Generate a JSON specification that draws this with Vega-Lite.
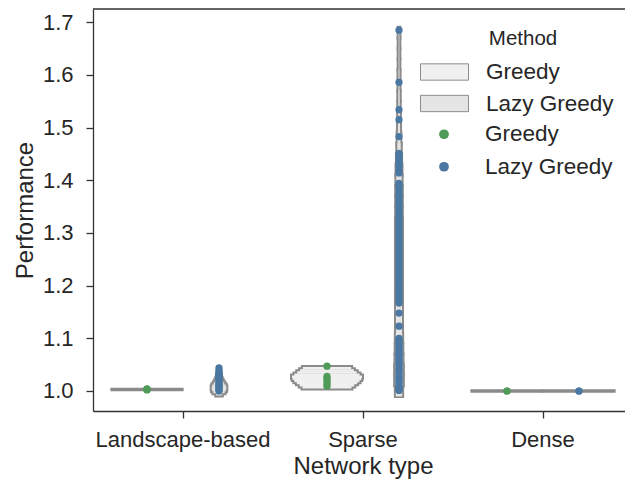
{
  "$schema": "https://vega.github.io/schema/vega-lite/v6.json",
  "autosize": {"type": "none"},
  "padding": {"left": 93, "top": 9, "right": 0, "bottom": 71},
  "width": 532,
  "height": 402,
  "background": "white",
  "config": {
    "font": "Liberation Sans",
    "view": {"stroke": null},
    "axis": {
      "domainColor": "#333333", "domainWidth": 1.3,
      "tickColor": "#333333", "tickWidth": 1.3, "tickSize": 7,
      "labelColor": "#262626", "titleColor": "#262626",
      "labelFontSize": 22, "titleFontSize": 24, "titleFontWeight": "normal",
      "grid": false
    }
  },
  "datasets": {
    "points": [
      {"Network": "Landscape-based", "Method": "Greedy", "Performance": 1.002},
      {"Network": "Landscape-based", "Method": "Greedy", "Performance": 1.003},
      {"Network": "Landscape-based", "Method": "Greedy", "Performance": 1.003},
      {"Network": "Landscape-based", "Method": "Greedy", "Performance": 1.004},
      {"Network": "Landscape-based", "Method": "Lazy Greedy", "Performance": 1.000},
      {"Network": "Landscape-based", "Method": "Lazy Greedy", "Performance": 1.002},
      {"Network": "Landscape-based", "Method": "Lazy Greedy", "Performance": 1.004},
      {"Network": "Landscape-based", "Method": "Lazy Greedy", "Performance": 1.006},
      {"Network": "Landscape-based", "Method": "Lazy Greedy", "Performance": 1.008},
      {"Network": "Landscape-based", "Method": "Lazy Greedy", "Performance": 1.010},
      {"Network": "Landscape-based", "Method": "Lazy Greedy", "Performance": 1.012},
      {"Network": "Landscape-based", "Method": "Lazy Greedy", "Performance": 1.014},
      {"Network": "Landscape-based", "Method": "Lazy Greedy", "Performance": 1.017},
      {"Network": "Landscape-based", "Method": "Lazy Greedy", "Performance": 1.020},
      {"Network": "Landscape-based", "Method": "Lazy Greedy", "Performance": 1.023},
      {"Network": "Landscape-based", "Method": "Lazy Greedy", "Performance": 1.026},
      {"Network": "Landscape-based", "Method": "Lazy Greedy", "Performance": 1.029},
      {"Network": "Landscape-based", "Method": "Lazy Greedy", "Performance": 1.032},
      {"Network": "Landscape-based", "Method": "Lazy Greedy", "Performance": 1.035},
      {"Network": "Landscape-based", "Method": "Lazy Greedy", "Performance": 1.039},
      {"Network": "Landscape-based", "Method": "Lazy Greedy", "Performance": 1.044},
      {"Network": "Sparse", "Method": "Greedy", "Performance": 1.009},
      {"Network": "Sparse", "Method": "Greedy", "Performance": 1.013},
      {"Network": "Sparse", "Method": "Greedy", "Performance": 1.017},
      {"Network": "Sparse", "Method": "Greedy", "Performance": 1.021},
      {"Network": "Sparse", "Method": "Greedy", "Performance": 1.025},
      {"Network": "Sparse", "Method": "Greedy", "Performance": 1.028},
      {"Network": "Sparse", "Method": "Greedy", "Performance": 1.047},
      {"Network": "Sparse", "Method": "Lazy Greedy", "Performance": 1.001},
      {"Network": "Sparse", "Method": "Lazy Greedy", "Performance": 1.003},
      {"Network": "Sparse", "Method": "Lazy Greedy", "Performance": 1.006},
      {"Network": "Sparse", "Method": "Lazy Greedy", "Performance": 1.008},
      {"Network": "Sparse", "Method": "Lazy Greedy", "Performance": 1.011},
      {"Network": "Sparse", "Method": "Lazy Greedy", "Performance": 1.015},
      {"Network": "Sparse", "Method": "Lazy Greedy", "Performance": 1.018},
      {"Network": "Sparse", "Method": "Lazy Greedy", "Performance": 1.021},
      {"Network": "Sparse", "Method": "Lazy Greedy", "Performance": 1.024},
      {"Network": "Sparse", "Method": "Lazy Greedy", "Performance": 1.026},
      {"Network": "Sparse", "Method": "Lazy Greedy", "Performance": 1.030},
      {"Network": "Sparse", "Method": "Lazy Greedy", "Performance": 1.033},
      {"Network": "Sparse", "Method": "Lazy Greedy", "Performance": 1.037},
      {"Network": "Sparse", "Method": "Lazy Greedy", "Performance": 1.040},
      {"Network": "Sparse", "Method": "Lazy Greedy", "Performance": 1.042},
      {"Network": "Sparse", "Method": "Lazy Greedy", "Performance": 1.046},
      {"Network": "Sparse", "Method": "Lazy Greedy", "Performance": 1.050},
      {"Network": "Sparse", "Method": "Lazy Greedy", "Performance": 1.053},
      {"Network": "Sparse", "Method": "Lazy Greedy", "Performance": 1.055},
      {"Network": "Sparse", "Method": "Lazy Greedy", "Performance": 1.059},
      {"Network": "Sparse", "Method": "Lazy Greedy", "Performance": 1.062},
      {"Network": "Sparse", "Method": "Lazy Greedy", "Performance": 1.066},
      {"Network": "Sparse", "Method": "Lazy Greedy", "Performance": 1.069},
      {"Network": "Sparse", "Method": "Lazy Greedy", "Performance": 1.071},
      {"Network": "Sparse", "Method": "Lazy Greedy", "Performance": 1.075},
      {"Network": "Sparse", "Method": "Lazy Greedy", "Performance": 1.078},
      {"Network": "Sparse", "Method": "Lazy Greedy", "Performance": 1.082},
      {"Network": "Sparse", "Method": "Lazy Greedy", "Performance": 1.085},
      {"Network": "Sparse", "Method": "Lazy Greedy", "Performance": 1.088},
      {"Network": "Sparse", "Method": "Lazy Greedy", "Performance": 1.091},
      {"Network": "Sparse", "Method": "Lazy Greedy", "Performance": 1.095},
      {"Network": "Sparse", "Method": "Lazy Greedy", "Performance": 1.098},
      {"Network": "Sparse", "Method": "Lazy Greedy", "Performance": 1.100},
      {"Network": "Sparse", "Method": "Lazy Greedy", "Performance": 1.123},
      {"Network": "Sparse", "Method": "Lazy Greedy", "Performance": 1.148},
      {"Network": "Sparse", "Method": "Lazy Greedy", "Performance": 1.167},
      {"Network": "Sparse", "Method": "Lazy Greedy", "Performance": 1.172},
      {"Network": "Sparse", "Method": "Lazy Greedy", "Performance": 1.178},
      {"Network": "Sparse", "Method": "Lazy Greedy", "Performance": 1.183},
      {"Network": "Sparse", "Method": "Lazy Greedy", "Performance": 1.190},
      {"Network": "Sparse", "Method": "Lazy Greedy", "Performance": 1.195},
      {"Network": "Sparse", "Method": "Lazy Greedy", "Performance": 1.201},
      {"Network": "Sparse", "Method": "Lazy Greedy", "Performance": 1.206},
      {"Network": "Sparse", "Method": "Lazy Greedy", "Performance": 1.213},
      {"Network": "Sparse", "Method": "Lazy Greedy", "Performance": 1.218},
      {"Network": "Sparse", "Method": "Lazy Greedy", "Performance": 1.224},
      {"Network": "Sparse", "Method": "Lazy Greedy", "Performance": 1.229},
      {"Network": "Sparse", "Method": "Lazy Greedy", "Performance": 1.236},
      {"Network": "Sparse", "Method": "Lazy Greedy", "Performance": 1.241},
      {"Network": "Sparse", "Method": "Lazy Greedy", "Performance": 1.247},
      {"Network": "Sparse", "Method": "Lazy Greedy", "Performance": 1.252},
      {"Network": "Sparse", "Method": "Lazy Greedy", "Performance": 1.259},
      {"Network": "Sparse", "Method": "Lazy Greedy", "Performance": 1.264},
      {"Network": "Sparse", "Method": "Lazy Greedy", "Performance": 1.270},
      {"Network": "Sparse", "Method": "Lazy Greedy", "Performance": 1.275},
      {"Network": "Sparse", "Method": "Lazy Greedy", "Performance": 1.282},
      {"Network": "Sparse", "Method": "Lazy Greedy", "Performance": 1.287},
      {"Network": "Sparse", "Method": "Lazy Greedy", "Performance": 1.293},
      {"Network": "Sparse", "Method": "Lazy Greedy", "Performance": 1.298},
      {"Network": "Sparse", "Method": "Lazy Greedy", "Performance": 1.305},
      {"Network": "Sparse", "Method": "Lazy Greedy", "Performance": 1.310},
      {"Network": "Sparse", "Method": "Lazy Greedy", "Performance": 1.316},
      {"Network": "Sparse", "Method": "Lazy Greedy", "Performance": 1.321},
      {"Network": "Sparse", "Method": "Lazy Greedy", "Performance": 1.328},
      {"Network": "Sparse", "Method": "Lazy Greedy", "Performance": 1.333},
      {"Network": "Sparse", "Method": "Lazy Greedy", "Performance": 1.339},
      {"Network": "Sparse", "Method": "Lazy Greedy", "Performance": 1.344},
      {"Network": "Sparse", "Method": "Lazy Greedy", "Performance": 1.351},
      {"Network": "Sparse", "Method": "Lazy Greedy", "Performance": 1.356},
      {"Network": "Sparse", "Method": "Lazy Greedy", "Performance": 1.362},
      {"Network": "Sparse", "Method": "Lazy Greedy", "Performance": 1.367},
      {"Network": "Sparse", "Method": "Lazy Greedy", "Performance": 1.374},
      {"Network": "Sparse", "Method": "Lazy Greedy", "Performance": 1.379},
      {"Network": "Sparse", "Method": "Lazy Greedy", "Performance": 1.385},
      {"Network": "Sparse", "Method": "Lazy Greedy", "Performance": 1.390},
      {"Network": "Sparse", "Method": "Lazy Greedy", "Performance": 1.394},
      {"Network": "Sparse", "Method": "Lazy Greedy", "Performance": 1.414},
      {"Network": "Sparse", "Method": "Lazy Greedy", "Performance": 1.419},
      {"Network": "Sparse", "Method": "Lazy Greedy", "Performance": 1.425},
      {"Network": "Sparse", "Method": "Lazy Greedy", "Performance": 1.431},
      {"Network": "Sparse", "Method": "Lazy Greedy", "Performance": 1.437},
      {"Network": "Sparse", "Method": "Lazy Greedy", "Performance": 1.442},
      {"Network": "Sparse", "Method": "Lazy Greedy", "Performance": 1.447},
      {"Network": "Sparse", "Method": "Lazy Greedy", "Performance": 1.451},
      {"Network": "Sparse", "Method": "Lazy Greedy", "Performance": 1.483},
      {"Network": "Sparse", "Method": "Lazy Greedy", "Performance": 1.515},
      {"Network": "Sparse", "Method": "Lazy Greedy", "Performance": 1.534},
      {"Network": "Sparse", "Method": "Lazy Greedy", "Performance": 1.586},
      {"Network": "Sparse", "Method": "Lazy Greedy", "Performance": 1.685},
      {"Network": "Dense", "Method": "Greedy", "Performance": 1.000},
      {"Network": "Dense", "Method": "Greedy", "Performance": 1.000},
      {"Network": "Dense", "Method": "Lazy Greedy", "Performance": 1.000},
      {"Network": "Dense", "Method": "Lazy Greedy", "Performance": 1.000}
    ],
    "violinFine": [
      {"Network": "Sparse", "Method": "Greedy", "Performance": 1.007, "density": 0.70},
      {"Network": "Sparse", "Method": "Greedy", "Performance": 1.011, "density": 0.78},
      {"Network": "Sparse", "Method": "Greedy", "Performance": 1.015, "density": 0.86},
      {"Network": "Sparse", "Method": "Greedy", "Performance": 1.019, "density": 0.93},
      {"Network": "Sparse", "Method": "Greedy", "Performance": 1.023, "density": 0.98},
      {"Network": "Sparse", "Method": "Greedy", "Performance": 1.027, "density": 1.0},
      {"Network": "Sparse", "Method": "Greedy", "Performance": 1.031, "density": 0.93},
      {"Network": "Sparse", "Method": "Greedy", "Performance": 1.035, "density": 0.85},
      {"Network": "Sparse", "Method": "Greedy", "Performance": 1.039, "density": 0.77},
      {"Network": "Sparse", "Method": "Greedy", "Performance": 1.043, "density": 0.69},
      {"Network": "Landscape-based", "Method": "Lazy Greedy", "Performance": 0.994, "density": 0.08},
      {"Network": "Landscape-based", "Method": "Lazy Greedy", "Performance": 0.998, "density": 0.16},
      {"Network": "Landscape-based", "Method": "Lazy Greedy", "Performance": 1.002, "density": 0.20},
      {"Network": "Landscape-based", "Method": "Lazy Greedy", "Performance": 1.006, "density": 0.21},
      {"Network": "Landscape-based", "Method": "Lazy Greedy", "Performance": 1.010, "density": 0.19},
      {"Network": "Landscape-based", "Method": "Lazy Greedy", "Performance": 1.014, "density": 0.15},
      {"Network": "Landscape-based", "Method": "Lazy Greedy", "Performance": 1.018, "density": 0.11},
      {"Network": "Landscape-based", "Method": "Lazy Greedy", "Performance": 1.022, "density": 0.08},
      {"Network": "Landscape-based", "Method": "Lazy Greedy", "Performance": 1.026, "density": 0.06},
      {"Network": "Landscape-based", "Method": "Lazy Greedy", "Performance": 1.030, "density": 0.05},
      {"Network": "Landscape-based", "Method": "Lazy Greedy", "Performance": 1.034, "density": 0.04},
      {"Network": "Landscape-based", "Method": "Lazy Greedy", "Performance": 1.038, "density": 0.03},
      {"Network": "Landscape-based", "Method": "Lazy Greedy", "Performance": 1.042, "density": 0.02}
    ],
    "violinCoarse": [
      {"Network": "Sparse", "Method": "Lazy Greedy", "Performance": 1.00, "density": 0.09},
      {"Network": "Sparse", "Method": "Lazy Greedy", "Performance": 1.02, "density": 0.11},
      {"Network": "Sparse", "Method": "Lazy Greedy", "Performance": 1.04, "density": 0.11},
      {"Network": "Sparse", "Method": "Lazy Greedy", "Performance": 1.06, "density": 0.10},
      {"Network": "Sparse", "Method": "Lazy Greedy", "Performance": 1.08, "density": 0.095},
      {"Network": "Sparse", "Method": "Lazy Greedy", "Performance": 1.10, "density": 0.09},
      {"Network": "Sparse", "Method": "Lazy Greedy", "Performance": 1.12, "density": 0.085},
      {"Network": "Sparse", "Method": "Lazy Greedy", "Performance": 1.14, "density": 0.085},
      {"Network": "Sparse", "Method": "Lazy Greedy", "Performance": 1.16, "density": 0.085},
      {"Network": "Sparse", "Method": "Lazy Greedy", "Performance": 1.18, "density": 0.085},
      {"Network": "Sparse", "Method": "Lazy Greedy", "Performance": 1.20, "density": 0.085},
      {"Network": "Sparse", "Method": "Lazy Greedy", "Performance": 1.22, "density": 0.085},
      {"Network": "Sparse", "Method": "Lazy Greedy", "Performance": 1.24, "density": 0.085},
      {"Network": "Sparse", "Method": "Lazy Greedy", "Performance": 1.26, "density": 0.085},
      {"Network": "Sparse", "Method": "Lazy Greedy", "Performance": 1.28, "density": 0.085},
      {"Network": "Sparse", "Method": "Lazy Greedy", "Performance": 1.30, "density": 0.085},
      {"Network": "Sparse", "Method": "Lazy Greedy", "Performance": 1.32, "density": 0.085},
      {"Network": "Sparse", "Method": "Lazy Greedy", "Performance": 1.34, "density": 0.08},
      {"Network": "Sparse", "Method": "Lazy Greedy", "Performance": 1.36, "density": 0.08},
      {"Network": "Sparse", "Method": "Lazy Greedy", "Performance": 1.38, "density": 0.08},
      {"Network": "Sparse", "Method": "Lazy Greedy", "Performance": 1.40, "density": 0.075},
      {"Network": "Sparse", "Method": "Lazy Greedy", "Performance": 1.42, "density": 0.07},
      {"Network": "Sparse", "Method": "Lazy Greedy", "Performance": 1.44, "density": 0.06},
      {"Network": "Sparse", "Method": "Lazy Greedy", "Performance": 1.46, "density": 0.05},
      {"Network": "Sparse", "Method": "Lazy Greedy", "Performance": 1.48, "density": 0.04},
      {"Network": "Sparse", "Method": "Lazy Greedy", "Performance": 1.50, "density": 0.03},
      {"Network": "Sparse", "Method": "Lazy Greedy", "Performance": 1.52, "density": 0.025},
      {"Network": "Sparse", "Method": "Lazy Greedy", "Performance": 1.54, "density": 0.02},
      {"Network": "Sparse", "Method": "Lazy Greedy", "Performance": 1.56, "density": 0.02},
      {"Network": "Sparse", "Method": "Lazy Greedy", "Performance": 1.58, "density": 0.015},
      {"Network": "Sparse", "Method": "Lazy Greedy", "Performance": 1.60, "density": 0.015},
      {"Network": "Sparse", "Method": "Lazy Greedy", "Performance": 1.62, "density": 0.01},
      {"Network": "Sparse", "Method": "Lazy Greedy", "Performance": 1.64, "density": 0.01},
      {"Network": "Sparse", "Method": "Lazy Greedy", "Performance": 1.66, "density": 0.01},
      {"Network": "Sparse", "Method": "Lazy Greedy", "Performance": 1.68, "density": 0.01}
    ],
    "violinFlat": [
      {"Network": "Landscape-based", "Method": "Greedy", "Performance": 1.003, "density": 0.99},
      {"Network": "Dense", "Method": "Greedy", "Performance": 1.000, "density": 0.99},
      {"Network": "Dense", "Method": "Lazy Greedy", "Performance": 1.000, "density": 0.99}
    ],
    "frame": [{"Performance": 1.7252}]
  },
  "layer": [
    {
      "encoding": {
        "x": {
          "field": "Network", "type": "nominal",
          "sort": ["Landscape-based", "Sparse", "Dense"],
          "scale": {"domain": ["Landscape-based", "Sparse", "Dense"], "range": [0, 540], "paddingInner": 0, "paddingOuter": 0},
          "axis": {"title": "Network type", "labelAngle": 0, "labelPadding": 11, "titlePadding": 4}
        },
        "xOffset": {
          "field": "Method", "type": "nominal",
          "scale": {"domain": ["Greedy", "Lazy Greedy"], "range": [18, 162], "paddingInner": 0, "paddingOuter": 0}
        },
        "y": {
          "field": "Performance", "type": "quantitative",
          "scale": {"domain": [0.962, 1.7252], "nice": false, "zero": false},
          "axis": {"title": "Performance", "values": [1.0, 1.1, 1.2, 1.3, 1.4, 1.5, 1.6, 1.7], "format": ".1f", "labelPadding": 13, "titlePadding": 5}
        }
      },
      "layer": [
        {
          "data": {"name": "violinFine"},
          "mark": {"type": "tick", "orient": "horizontal", "thickness": 6.5, "color": "#8a8a8a", "opacity": 1},
          "encoding": {"size": {"field": "density", "type": "quantitative", "scale": {"domain": [0, 1], "range": [4, 74]}, "legend": null}}
        },
        {
          "data": {"name": "violinCoarse"},
          "mark": {"type": "tick", "orient": "horizontal", "thickness": 14, "color": "#8a8a8a", "opacity": 1},
          "encoding": {"size": {"field": "density", "type": "quantitative", "scale": {"domain": [0, 1], "range": [4, 74]}, "legend": null}}
        },
        {
          "data": {"name": "violinFlat"},
          "mark": {"type": "tick", "orient": "horizontal", "thickness": 3.5, "color": "#8a8a8a", "opacity": 1},
          "encoding": {"size": {"field": "density", "type": "quantitative", "scale": {"domain": [0, 1], "range": [4, 74]}, "legend": null}}
        },
        {
          "data": {"name": "violinFine"},
          "mark": {"type": "tick", "orient": "horizontal", "thickness": 2.5, "opacity": 1},
          "encoding": {
            "size": {"field": "density", "type": "quantitative", "scale": {"domain": [0, 1], "range": [0, 70]}, "legend": null},
            "fill": {
              "field": "Method", "type": "nominal",
              "scale": {"range": ["#f0f0f0", "#e5e5e5"]},
              "legend": {
                "orient": "none", "legendX": 339, "legendY": 20, "padding": 0,
                "title": "Method", "titleFontSize": 20.5, "titleFontWeight": "normal", "titleColor": "#262626", "titleAnchor": "middle", "titlePadding": 10,
                "labelFontSize": 22.5, "labelColor": "#262626", "labelOffset": 29,
                "symbolType": "M-2,-0.68H2V0.68H-2Z", "symbolSize": 576, "symbolStrokeColor": "#8c8c8c", "symbolStrokeWidth": 1, "symbolOpacity": 1,
                "rowPadding": 7.5
              }
            }
          }
        },
        {
          "data": {"name": "violinCoarse"},
          "mark": {"type": "tick", "orient": "horizontal", "thickness": 11, "opacity": 1},
          "encoding": {
            "size": {"field": "density", "type": "quantitative", "scale": {"domain": [0, 1], "range": [0, 70]}, "legend": null},
            "fill": {
              "field": "Method", "type": "nominal",
              "scale": {"range": ["#f0f0f0", "#e5e5e5"]},
              "legend": {
                "orient": "none", "legendX": 339, "legendY": 20, "padding": 0,
                "title": "Method", "titleFontSize": 20.5, "titleFontWeight": "normal", "titleColor": "#262626", "titleAnchor": "middle", "titlePadding": 10,
                "labelFontSize": 22.5, "labelColor": "#262626", "labelOffset": 29,
                "symbolType": "M-2,-0.68H2V0.68H-2Z", "symbolSize": 576, "symbolStrokeColor": "#8c8c8c", "symbolStrokeWidth": 1, "symbolOpacity": 1,
                "rowPadding": 7.5
              }
            }
          }
        },
        {
          "data": {"name": "points"},
          "mark": {"type": "circle", "size": 52, "opacity": 1},
          "encoding": {
            "color": {
              "field": "Method", "type": "nominal",
              "scale": {"range": ["#4f9a57", "#4a78a2"]},
              "legend": {
                "orient": "none", "legendX": 339.75, "legendY": 114, "padding": 0,
                "title": null,
                "labelFontSize": 22.5, "labelColor": "#262626", "labelOffset": 29.75,
                "symbolType": "circle", "symbolSize": 95, "symbolOpacity": 1,
                "rowPadding": 9.5
              }
            }
          }
        }
      ],
      "resolve": {"scale": {"size": "independent"}}
    },
    {
      "data": {"name": "frame"},
      "mark": {"type": "rule", "color": "#333333", "strokeWidth": 1.3},
      "encoding": {"y": {"field": "Performance", "type": "quantitative"}}
    }
  ]
}
